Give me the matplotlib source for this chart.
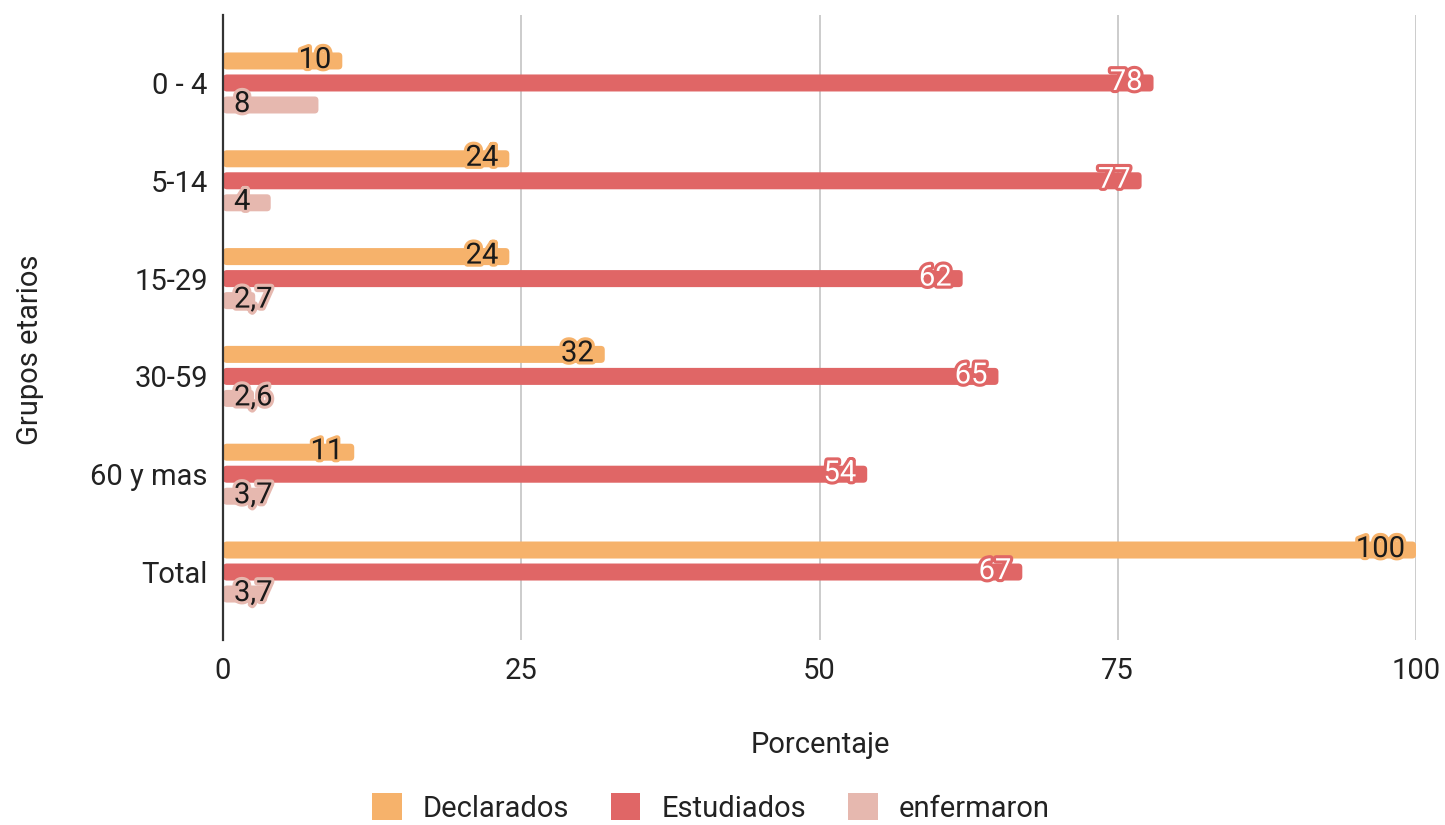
import matplotlib
matplotlib.use('Agg')
import matplotlib.pyplot as plt
import matplotlib.patheffects as pe
from matplotlib.patches import FancyBboxPatch, Patch
import numpy as np

plt.rcParams['font.family'] = ['Roboto', 'DejaVu Sans']

# Data
grupos = ['0 - 4', '5-14', '15-29', '30-59', '60 y mas', 'Total']
declarados = [10, 24, 24, 32, 11, 100]
estudiados = [78, 77, 62, 65, 54, 67]
enfermaron = [8, 4, 2.7, 2.6, 3.7, 3.7]
series_nombres = ['Declarados', 'Estudiados', 'enfermaron']
xticks = [0, 25, 50, 75, 100]

colores = ['#f6b26b', '#e06666', '#e6b8af']
color_texto = ['#1a1a1a', 'white', '#1a1a1a']
fs = 21

fig = plt.figure(figsize=(14.45, 8.25), dpi=100)
ax = fig.add_axes([223/1445, 1-640/825, 1193/1445, 625/825])

y = np.arange(len(grupos))
alto = 0.174
sep = 0.225

def etiqueta(v):
    s = ('%g' % v)
    return s.replace('.', ',')

for k, (nombre, vals) in enumerate(zip(series_nombres, [declarados, estudiados, enfermaron])):
    pos = y + (k-1)*sep
    bars = ax.barh(pos, vals, height=alto, color=colores[k])
    # rounded ends
    for b in bars:
        b.set_visible(False)
        r = FancyBboxPatch((b.get_x(), b.get_y()), b.get_width(), b.get_height(),
                           boxstyle='round,pad=0,rounding_size=0.33',
                           mutation_aspect=0.122, facecolor=colores[k],
                           edgecolor='none', zorder=2)
        ax.add_patch(r)
    for p, v in zip(pos, vals):
        if k == 2:
            t = ax.annotate(etiqueta(v), (0, p), xytext=(11, 1), textcoords='offset pixels',
                            ha='left', va='center', fontsize=fs, color=color_texto[k], zorder=4)
        else:
            t = ax.annotate(etiqueta(v), (v, p), xytext=(-11, 1), textcoords='offset pixels',
                            ha='right', va='center', fontsize=fs, color=color_texto[k], zorder=4)
        t.set_path_effects([pe.withStroke(linewidth=4.5, foreground=colores[k])])

ax.set_ylim(len(grupos)-1+0.695, -0.695)
ax.set_xlim(0, 100)
ax.set_yticks(y)
ax.set_yticklabels(grupos)
ax.set_xticks(xticks)
ax.tick_params(axis='both', length=0, labelsize=fs, colors='#222222')
ax.tick_params(axis='y', pad=11)
ax.tick_params(axis='x', pad=12)

ax.grid(axis='x', color='#cccccc', linewidth=1.4, zorder=0)
ax.set_axisbelow(True)
for s in ['top', 'right', 'bottom']:
    ax.spines[s].set_visible(False)
ax.spines['left'].set_color('#333333')
ax.spines['left'].set_linewidth(1.6)
ax.spines['left'].set_zorder(3)

ax.set_xlabel('Porcentaje', fontsize=fs, color='#222222', va='center')
ax.xaxis.set_label_coords((820-223)/1193, -(745-640)/625)
ax.set_ylabel('Grupos etarios', fontsize=fs, color='#222222', va='center')
ax.yaxis.set_label_coords(-(223-30)/1193, 1-(350-15)/625)

handles = [Patch(facecolor=c, edgecolor='none') for c in colores]
fig.legend(handles, series_nombres, loc='center', bbox_to_anchor=(711/1445, 1-808/825),
           ncol=3, frameon=False, fontsize=fs, handlelength=1.0, handleheight=1.0,
           handletextpad=0.72, columnspacing=1.45, labelcolor='#222222')

fig.savefig('out.png', dpi=100)
